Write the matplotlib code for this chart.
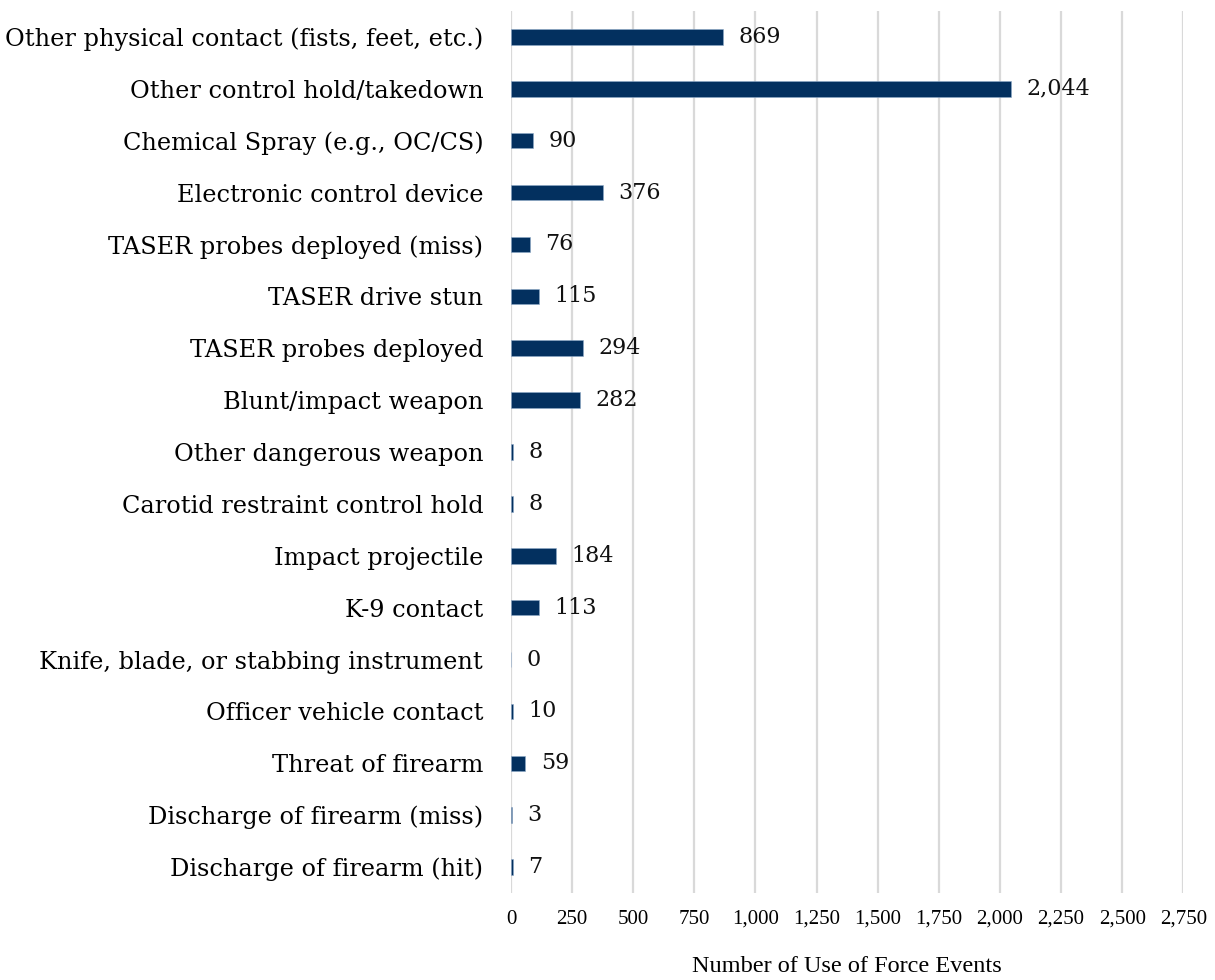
import matplotlib
matplotlib.use("Agg")
import matplotlib.pyplot as plt
from matplotlib.ticker import FuncFormatter

categories = [
    "Other physical contact (fists, feet, etc.)",
    "Other control hold/takedown",
    "Chemical Spray (e.g., OC/CS)",
    "Electronic control device",
    "TASER probes deployed (miss)",
    "TASER drive stun",
    "TASER probes deployed",
    "Blunt/impact weapon",
    "Other dangerous weapon",
    "Carotid restraint control hold",
    "Impact projectile",
    "K-9 contact",
    "Knife, blade, or stabbing instrument",
    "Officer vehicle contact",
    "Threat of firearm",
    "Discharge of firearm (miss)",
    "Discharge of firearm (hit)",
]
values = [869, 2044, 90, 376, 76, 115, 294, 282, 8, 8, 184, 113, 0, 10, 59, 3, 7]
xticks = [0, 250, 500, 750, 1000, 1250, 1500, 1750, 2000, 2250, 2500, 2750]
xlabel = "Number of Use of Force Events"

plt.rcParams['font.family'] = ['DejaVu Serif']

fig = plt.figure(figsize=(12.15, 9.8), dpi=100)
ax = fig.add_axes([511/1215, 1 - 893/980, (1183.3 - 511)/1215, (893 - 11)/980])

bar_color = '#03305F'
ypos = list(range(len(categories)))
ax.barh(ypos, values, height=0.3, color=bar_color, edgecolor='#8EA9C8', linewidth=0.4, zorder=3)

for y, v in zip(ypos, values):
    ax.annotate(f"{v:,}", xy=(v, y), xytext=(11, 0), textcoords='offset points',
                va='center', ha='left', fontsize=16, color='#111111')

ax.set_ylim(len(categories) - 0.5, -0.5)
ax.set_xlim(0, 2750)
ax.set_yticks(ypos)
ax.set_yticklabels(categories, fontsize=17.3)
ax.set_xticks(xticks)
ax.xaxis.set_major_formatter(FuncFormatter(lambda x, p: f"{int(x):,}"))
for lbl in ax.get_xticklabels():
    lbl.set_fontfamily('Liberation Serif')
ax.tick_params(axis='x', labelsize=15, length=0, pad=12)
ax.tick_params(axis='y', length=0, pad=20)
ax.grid(axis='x', color='#D9D9D9', linewidth=1.6, zorder=0)
ax.set_axisbelow(True)
for s in ax.spines.values():
    s.set_visible(False)
ax.set_xlabel(xlabel, fontsize=17.5, labelpad=20, family='Liberation Serif')

fig.savefig("out.png", dpi=100, facecolor='white')
